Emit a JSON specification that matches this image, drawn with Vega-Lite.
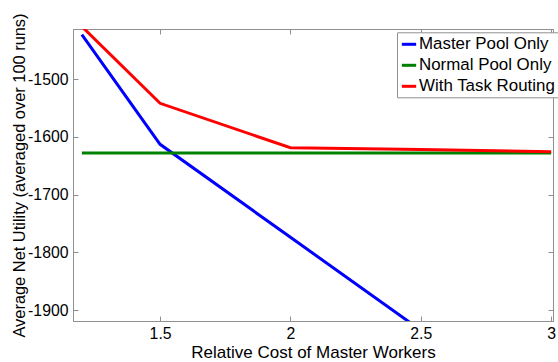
{
  "$schema": "https://vega.github.io/schema/vega-lite/v6.json",
  "width": 480,
  "height": 292,
  "autosize": {"type": "none"},
  "padding": {"left": 73, "top": 29, "right": 5, "bottom": 41},
  "background": "white",
  "config": {
    "font": "Liberation Sans",
    "view": {"stroke": "#909090", "strokeWidth": 1},
    "axis": {
      "grid": false,
      "domainColor": "#909090",
      "tickColor": "#909090",
      "labelColor": "black",
      "titleColor": "black",
      "labelFont": "Liberation Sans",
      "titleFont": "Liberation Sans",
      "labelFontSize": 15.8,
      "titleFontSize": 17,
      "titleFontWeight": "normal",
      "tickSize": -5,
      "labelPadding": 10
    }
  },
  "data": {
    "values": [
      {"series": "Master Pool Only", "cost": 1.2, "utility": -1423},
      {"series": "Master Pool Only", "cost": 1.5, "utility": -1613},
      {"series": "Master Pool Only", "cost": 2.0, "utility": -1774},
      {"series": "Master Pool Only", "cost": 2.5, "utility": -1935},
      {"series": "Master Pool Only", "cost": 3.0, "utility": -2096},
      {"series": "Normal Pool Only", "cost": 1.2, "utility": -1628},
      {"series": "Normal Pool Only", "cost": 1.5, "utility": -1628},
      {"series": "Normal Pool Only", "cost": 2.0, "utility": -1628},
      {"series": "Normal Pool Only", "cost": 2.5, "utility": -1628},
      {"series": "Normal Pool Only", "cost": 3.0, "utility": -1628},
      {"series": "With Task Routing", "cost": 1.2, "utility": -1409},
      {"series": "With Task Routing", "cost": 1.5, "utility": -1542},
      {"series": "With Task Routing", "cost": 2.0, "utility": -1619},
      {"series": "With Task Routing", "cost": 2.5, "utility": -1622},
      {"series": "With Task Routing", "cost": 3.0, "utility": -1626}
    ]
  },
  "layer": [
    {
      "mark": {"type": "line", "clip": true, "strokeWidth": 3},
      "encoding": {
        "x": {
          "field": "cost", "type": "quantitative",
          "scale": {"domain": [1.166, 3.007], "nice": false, "zero": false},
          "axis": {"values": [1.5, 2, 2.5, 3], "labelExpr": "toString(datum.value)", "title": "Relative Cost of Master Workers", "titlePadding": 4}
        },
        "y": {
          "field": "utility", "type": "quantitative",
          "scale": {"domain": [-1919, -1413.3], "nice": false, "zero": false},
          "axis": {"values": [-1900, -1800, -1700, -1600, -1500], "labelExpr": "'-' + toString(abs(datum.value))", "title": "Average Net Utility (averaged over 100 runs)", "titleFontSize": 16.4, "titlePadding": 0}
        },
        "color": {
          "field": "series", "type": "nominal",
          "scale": {"domain": ["Master Pool Only", "Normal Pool Only", "With Task Routing"], "range": ["#0000ff", "#008000", "#ff0000"]},
          "legend": {
            "title": null,
            "orient": "none",
            "legendX": 324,
            "legendY": 3.3,
            "direction": "vertical",
            "symbolType": "stroke",
            "symbolSize": 205,
            "symbolStrokeWidth": 3,
            "labelFontSize": 16.9,
            "labelFont": "Liberation Sans",
            "labelColor": "black",
            "labelOffset": 1,
            "rowPadding": 4,
            "padding": 3,
            "strokeColor": "#909090",
            "fillColor": "white"
          }
        }
      }
    },
    {
      "mark": {"type": "line", "opacity": 0},
      "encoding": {
        "x": {
          "field": "cost", "type": "quantitative",
          "axis": {"orient": "top", "values": [1.5, 2, 2.5, 3], "labels": false, "title": null}
        },
        "y": {
          "field": "utility", "type": "quantitative",
          "axis": {"orient": "right", "values": [-1900, -1800, -1700, -1600, -1500], "labels": false, "title": null}
        },
        "detail": {"field": "series", "type": "nominal"}
      }
    }
  ],
  "resolve": {"axis": {"x": "independent", "y": "independent"}}
}
